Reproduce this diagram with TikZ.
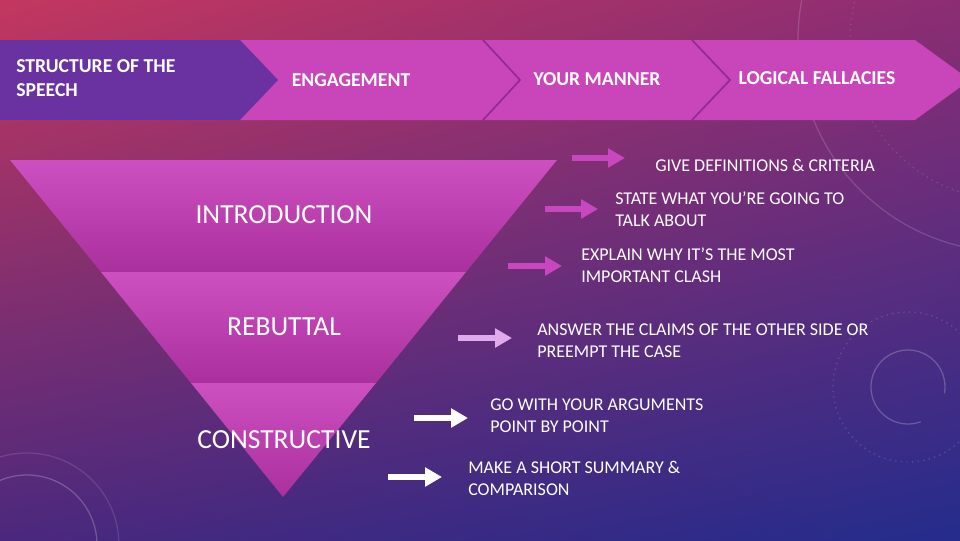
\documentclass[tikz,border=0pt]{standalone}
\usepackage{fontspec}
\setmainfont{Carlito}
\usepackage{tikz}
\usetikzlibrary{arrows.meta, positioning, shadings}
\definecolor{bgcrimson}{RGB}{195,55,95}
\definecolor{bgplum}{RGB}{140,45,115}
\definecolor{bgviolet}{RGB}{75,40,125}
\definecolor{bgnavy}{RGB}{36,44,140}
\definecolor{ribbon}{RGB}{200,70,185}
\definecolor{ribbondark}{RGB}{105,50,160}
\definecolor{ribbonline}{RGB}{150,40,150}
\definecolor{bandlight}{RGB}{205,80,192}
\definecolor{banddark}{RGB}{170,48,158}
\definecolor{arrowpink}{RGB}{200,70,190}
\definecolor{arrowlilac}{RGB}{225,170,235}

\begin{document}
\begin{tikzpicture}[
    x=0.025cm, y=-0.025cm,
    every node/.style={text=white, inner sep=0pt},
    ribbontext/.style={font=\fontsize{14}{17}\selectfont\bfseries, align=left},
    layertext/.style={font=\fontsize{19.6}{23}\selectfont},
    pointtext/.style={
        font=\fontsize{12.8}{15.6}\selectfont,
        align=left,
        anchor=west
    },
    band/.style={top color=bandlight, bottom color=banddark},
    pointarrow/.style={line width=4pt, -{Triangle[length=12pt, width=13pt]}},
    ring/.style={draw=white, line width=0.9pt, opacity=0.22}
]

% BACKGROUND
\useasboundingbox (0,0) rectangle (960,540);
\clip (0,0) rectangle (960,540);
\shade[upper left=bgcrimson, upper right=bgplum, lower left=bgviolet, lower right=bgnavy]
    (0,0) rectangle (960,540);

% RINGS
\draw[ring] (908,387) ++(70:37) arc[start angle=70, end angle=370, radius=37];
\draw[ring, dash pattern=on 1pt off 3pt, opacity=0.15] (908,387) circle[radius=75];
\draw[ring] (27,545) circle[radius=70];
\draw[ring, opacity=0.12] (27,545) circle[radius=92];
\draw[ring, opacity=0.15] (1010,40) circle[radius=212];
\draw[ring, dash pattern=on 1pt off 3pt, opacity=0.12] (1010,40) circle[radius=160];

% RIBBON
\fill[ribbon] (0,40) -- (915,40) -- (970,80) -- (915,120) -- (0,120) -- cycle;
\fill[ribbondark] (0,40) -- (240,40) -- (278,80) -- (240,120) -- (0,120) -- cycle;
\draw[ribbonline, line width=1.2pt] (483,40) -- (520,80) -- (483,120);
\draw[ribbonline, line width=1.2pt] (692,40) -- (730,80) -- (692,120);

\node[ribbontext, anchor=west] (structure) at (16,78) {STRUCTURE OF THE\\SPEECH};
\node[ribbontext] (engage) at (351,80) {ENGAGEMENT};
\node[ribbontext] (manner) at (597,79) {YOUR MANNER};
\node[ribbontext] (fallacy) at (817,78) {LOGICAL FALLACIES};

% TRIANGLE LAYERS
\shade[band] (10,160) -- (557,160) -- (466,272) -- (101,272) -- cycle;
\shade[band] (101,272) -- (466,272) -- (376,383) -- (191,383) -- cycle;
\shade[band] (191,383) -- (376,383) -- (283,497) -- cycle;

\node[layertext] (intro) at (284,215) {INTRODUCTION};
\node[layertext] (rebut) at (284,327) {REBUTTAL};
\node[layertext] (constr) at (284,440) {CONSTRUCTIVE};

% POINTS
\node[pointtext] (define) at (655,165) {GIVE DEFINITIONS \& CRITERIA};
\node[pointtext] (state) at (615,209) {STATE WHAT YOU'RE GOING TO\\TALK ABOUT};
\node[pointtext] (explain) at (581,265) {EXPLAIN WHY IT'S THE MOST\\IMPORTANT CLASH};
\node[pointtext] (answer) at (537,341) {ANSWER THE CLAIMS OF THE OTHER SIDE OR\\PREEMPT THE CASE};
\node[pointtext] (args) at (490,416) {GO WITH YOUR ARGUMENTS\\POINT BY POINT};
\node[pointtext] (summary) at (468,478) {MAKE A SHORT SUMMARY \&\\COMPARISON};

% ARROWS
\coordinate (defineTail) at (572,158);  \coordinate (defineHead) at (625,158);
\coordinate (stateTail) at (545,209);   \coordinate (stateHead) at (598,209);
\coordinate (explainTail) at (508,266); \coordinate (explainHead) at (562,266);
\coordinate (answerTail) at (458,338);  \coordinate (answerHead) at (512,338);
\coordinate (argsTail) at (414,418);    \coordinate (argsHead) at (468,418);
\coordinate (summaryTail) at (388,477); \coordinate (summaryHead) at (442,477);

\draw[pointarrow, arrowpink] (defineTail) -- (defineHead);
\draw[pointarrow, arrowpink] (stateTail) -- (stateHead);
\draw[pointarrow, arrowpink] (explainTail) -- (explainHead);
\draw[pointarrow, arrowlilac] (answerTail) -- (answerHead);
\draw[pointarrow, white] (argsTail) -- (argsHead);
\draw[pointarrow, white] (summaryTail) -- (summaryHead);

\end{tikzpicture}
\end{document}
